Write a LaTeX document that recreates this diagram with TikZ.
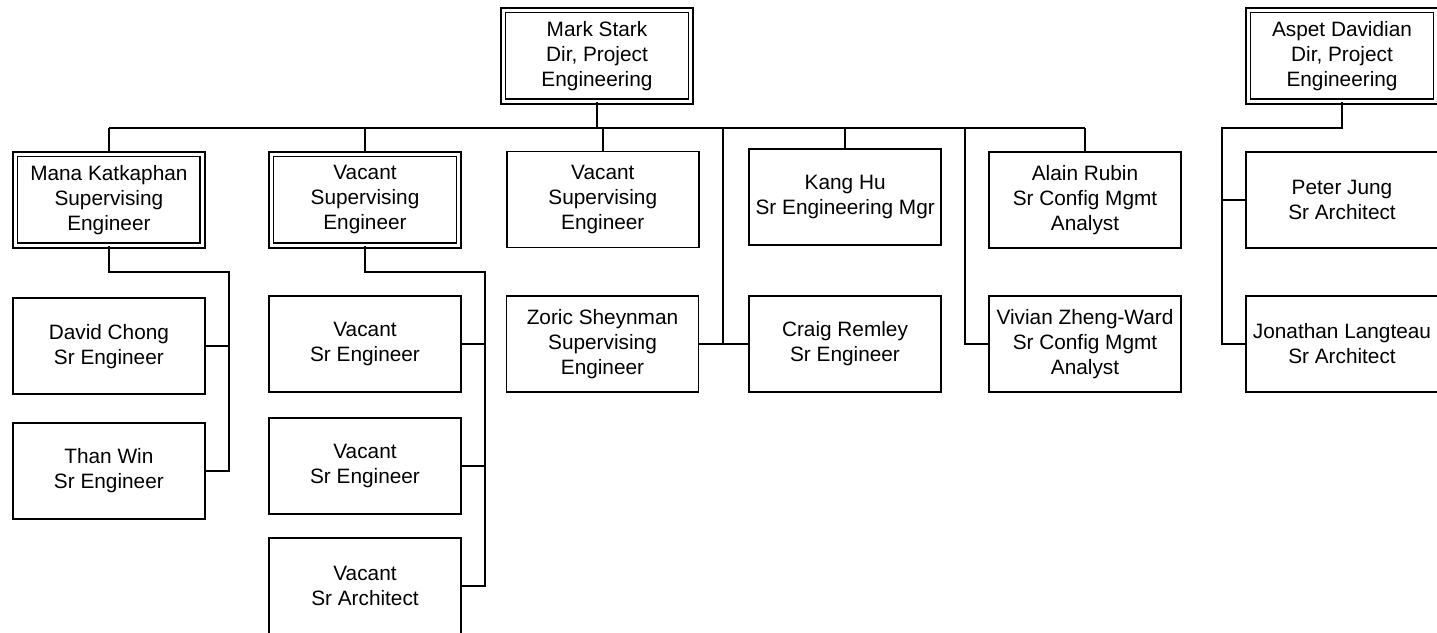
\documentclass[tikz,border=0pt]{standalone}
\usepackage{fontspec}
\setmainfont{Liberation Sans}
\begin{document}
\begin{tikzpicture}[x=0.75pt,y=-0.75pt,
  box/.style={draw, line width=1.45pt, minimum width=144pt, minimum height=72pt,
    inner sep=0pt, align=center, font=\fontsize{15.6}{18.75}\selectfont},
  dbox/.style={box, double, line width=1.2pt, double distance=2.3pt,
    minimum width=140.5pt, minimum height=68.5pt},
  conn/.style={line width=1.4pt}]
\fill[white] (0,0) rectangle (1437,632);
\clip (0,0) rectangle (1437,632);
% top level
\node[dbox] (mark) at (597,55.8) {Mark Stark\\Dir, Project\\Engineering};
\node[dbox] (aspet) at (1342,55.8) {Aspet Davidian\\Dir, Project\\Engineering};
% second row
\node[dbox] (mana) at (108.9,199.7) {Mana Katkaphan\\Supervising\\Engineer};
\node[dbox] (vse1) at (365,199.7) {Vacant\\Supervising\\Engineer};
\node[box] (vse2) at (602.8,199.5) {Vacant\\Supervising\\Engineer};
\node[box] (kang) at (845.2,197.3) {Kang Hu\\Sr Engineering Mgr};
\node[box] (alain) at (1085,199.7) {Alain Rubin\\Sr Config Mgmt\\Analyst};
\node[box] (peter) at (1342,199.8) {Peter Jung\\Sr Architect};
% lower rows
\node[box] (david) at (108.9,346.3) {David Chong\\Sr Engineer};
\node[box] (than) at (108.9,470.8) {Than Win\\Sr Engineer};
\node[box] (vsea) at (365,343.8) {Vacant\\Sr Engineer};
\node[box] (vseb) at (365,466.3) {Vacant\\Sr Engineer};
\node[box] (vsa) at (365,586.3) {Vacant\\Sr Architect};
\node[box] (zoric) at (602.5,343.8) {Zoric Sheynman\\Supervising\\Engineer};
\node[box] (craig) at (845,343.8) {Craig Remley\\Sr Engineer};
\node[box] (vivian) at (1085,343.8) {Vivian Zheng-Ward\\Sr Config Mgmt\\Analyst};
\node[box] (jon) at (1342,343.8) {Jonathan Langteau\\Sr Architect};
% helper coordinates
\coordinate (bus) at (597,127.7);
\coordinate (zc) at (722.7,343.8);
\coordinate (vc) at (965,343.8);
\coordinate (mk) at (229,271.7);
\coordinate (vk) at (484.7,271.7);
\coordinate (ak) at (1222.3,127.7);
% Mark Stark tree
\draw[conn] (mark.south) -- (bus);
\draw[conn] (mana.north |- bus) -- (alain.north |- bus);
\draw[conn] (mana.north) -- (mana.north |- bus);
\draw[conn] (vse1.north) -- (vse1.north |- bus);
\draw[conn] (vse2.north) -- (vse2.north |- bus);
\draw[conn] (kang.north) -- (kang.north |- bus);
\draw[conn] (alain.north) -- (alain.north |- bus);
\draw[conn] (zc |- bus) -- (zc);
\draw[conn] (zoric.east) -- (craig.west);
\draw[conn] (vc |- bus) -- (vc) -- (vivian.west);
% Mana Katkaphan
\draw[conn] (mana.south) |- (mk) -- (mk |- than.east) -- (than.east);
\draw[conn] (david.east) -- (david.east -| mk);
% Vacant supervising engineer
\draw[conn] (vse1.south) |- (vk) -- (vk |- vsa.east) -- (vsa.east);
\draw[conn] (vsea.east) -- (vsea.east -| vk);
\draw[conn] (vseb.east) -- (vseb.east -| vk);
% Aspet Davidian
\draw[conn] (aspet.south) |- (ak) -- (ak |- jon.west) -- (jon.west);
\draw[conn] (peter.west) -- (peter.west -| ak);
\end{tikzpicture}
\end{document}
